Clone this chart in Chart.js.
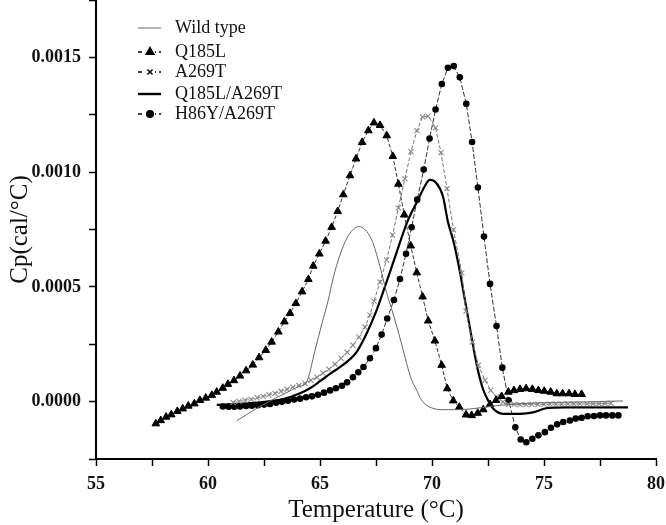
<!DOCTYPE html>
<html>
<head>
<meta charset="utf-8">
<script src="https://cdn.jsdelivr.net/npm/chart.js@4.4.1/dist/chart.umd.min.js"></script>
<style>
  html, body { margin: 0; padding: 0; background: #fff; }
  #wrap { width: 666px; height: 525px; }
</style>
</head>
<body>
<div id="wrap"><canvas id="chart-dsc" width="666" height="525"></canvas></div>
<script>
// values
const wildT = [61.28, 61.96, 62.62, 63.44, 64.11, 64.38, 64.78, 65.09, 65.37, 65.59, 65.89, 66.21, 66.47, 66.75, 67.01, 67.31, 67.68, 67.98, 68.21, 68.42, 68.62, 68.87, 69.06, 69.32, 69.51, 69.76, 70.04, 70.36, 71.10, 71.70, 72.59, 73.48, 74.38, 75.71, 77.05, 78.53];
const wildCp = [-0.000084, -0.000042, -0.000005, 0.000036, 0.000067, 0.00008, 0.000224, 0.000342, 0.000443, 0.000539, 0.000639, 0.000714, 0.000749, 0.000763, 0.000749, 0.000705, 0.000588, 0.000472, 0.0004, 0.00033, 0.00026, 0.000166, 0.000102, 0.000049, 0.00001, -0.000016, -0.000029, -0.000035, -0.000035, -0.000032, -0.000021, -0.000012, -0.000007, -0.000003, -0.000001, 0.000003];

const q185lT = [57.67, 57.89, 58.13, 58.36, 58.63, 58.87, 59.12, 59.39, 59.64, 59.90, 60.17, 60.39, 60.66, 60.89, 61.16, 61.43, 61.70, 62.00, 62.28, 62.58, 62.84, 63.14, 63.41, 63.66, 63.92, 64.20, 64.48, 64.70, 64.97, 65.25, 65.52, 65.79, 66.04, 66.34, 66.61, 66.88, 67.16, 67.41, 67.68, 67.98, 68.25, 68.50, 68.76, 69.05, 69.32, 69.58, 69.83, 70.13, 70.43, 70.68, 70.95, 71.22, 71.52, 71.77, 72.04, 72.29, 72.59, 72.86, 73.11, 73.41, 73.66, 73.93, 74.20, 74.48, 74.75, 75.01, 75.30, 75.57, 75.83, 76.12, 76.38, 76.68];
const q185lCp = [-0.000096, -0.000082, -0.000067, -0.000057, -0.000042, -0.000031, -0.000019, -0.000009, 0.000006, 0.000016, 0.000028, 0.000042, 0.000059, 0.000076, 0.000092, 0.000112, 0.000135, 0.00016, 0.000192, 0.000224, 0.00026, 0.000304, 0.000348, 0.000385, 0.000428, 0.000479, 0.000533, 0.000591, 0.000644, 0.0007, 0.00076, 0.000829, 0.000902, 0.000985, 0.001058, 0.00113, 0.001181, 0.001215, 0.001204, 0.001159, 0.001069, 0.000948, 0.000814, 0.000679, 0.000562, 0.000457, 0.000352, 0.000265, 0.000159, 0.000057, 0.000004, -0.000024, -0.000057, -0.00006, -0.00005, -0.000035, -0.000012, 0.000006, 0.000023, 0.000042, 0.000049, 0.000054, 0.000057, 0.000054, 0.000049, 0.000046, 0.000042, 0.000035, 0.000035, 0.000035, 0.000032, 0.000032];

const a269tT = [61.12, 61.38, 61.65, 61.92, 62.19, 62.46, 62.72, 62.99, 63.26, 63.53, 63.79, 64.06, 64.33, 64.60, 64.87, 65.13, 65.40, 65.67, 65.94, 66.21, 66.47, 66.74, 67.01, 67.23, 67.41, 67.68, 67.97, 68.24, 68.50, 68.79, 69.06, 69.33, 69.58, 69.82, 70.16, 70.40, 70.67, 70.96, 71.33, 71.52, 71.80, 72.07, 72.37, 72.62, 72.89, 73.17, 73.41, 73.67, 73.93, 74.20, 74.46, 74.73, 75.00, 75.27, 75.54, 75.80, 76.07, 76.34, 76.61, 76.92, 77.19, 77.46, 77.72, 77.99];
const a269tCp = [-0.000003, 0.000001, 0.000006, 0.00001, 0.000017, 0.000023, 0.00003, 0.000036, 0.000045, 0.000054, 0.000063, 0.000071, 0.00008, 0.000093, 0.000106, 0.000124, 0.000141, 0.000163, 0.000189, 0.000215, 0.000246, 0.000281, 0.000325, 0.000377, 0.000438, 0.000521, 0.000617, 0.000726, 0.000844, 0.000971, 0.001089, 0.001181, 0.001241, 0.001244, 0.001193, 0.001085, 0.000928, 0.000749, 0.000561, 0.000395, 0.00026, 0.000159, 0.000093, 0.000049, 0.00002, -0.000001, -0.000012, -0.000012, -0.000013, -0.000013, -0.000012, -0.000012, -0.000012, -0.000011, -0.000011, -0.000011, -0.00001, -0.00001, -0.00001, -0.00001, -0.000009, -0.000009, -0.000008, -0.000007];

const dblT = [60.39, 61.43, 62.32, 63.36, 64.11, 64.55, 65.00, 65.49, 65.89, 66.34, 66.64, 67.08, 67.53, 67.90, 68.41, 68.88, 69.38, 69.64, 69.90, 70.18, 70.49, 70.71, 70.94, 71.16, 71.47, 71.83, 72.05, 72.28, 72.50, 72.72, 73.17, 73.93, 74.51, 75.09, 75.98, 78.75];
const dblCp = [-0.000014, -0.00001, -0.000003, 0.000011, 0.000036, 0.000058, 0.000089, 0.000124, 0.00015, 0.000185, 0.000217, 0.000297, 0.000399, 0.000501, 0.000647, 0.000779, 0.00088, 0.000932, 0.000966, 0.000954, 0.000894, 0.000784, 0.000705, 0.000609, 0.000443, 0.000246, 0.000137, 0.000054, 0.000006, -0.000029, -0.000053, -0.000053, -0.000047, -0.000029, -0.000025, -0.000025];

const h86yT = [60.66, 60.92, 61.17, 61.43, 61.70, 61.96, 62.23, 62.50, 62.77, 63.04, 63.30, 63.57, 63.84, 64.11, 64.38, 64.64, 64.91, 65.18, 65.45, 65.71, 65.98, 66.21, 66.47, 66.71, 66.94, 67.23, 67.50, 67.75, 68.00, 68.30, 68.57, 68.84, 69.09, 69.34, 69.63, 69.89, 70.16, 70.44, 70.71, 70.97, 71.24, 71.53, 71.79, 72.05, 72.32, 72.59, 72.88, 73.14, 73.42, 73.72, 73.96, 74.21, 74.48, 74.75, 75.04, 75.31, 75.59, 75.86, 76.16, 76.42, 76.68, 76.95, 77.23, 77.50, 77.77, 78.05, 78.32];
const h86yCp = [-0.000021, -0.000022, -0.000022, -0.000021, -0.000019, -0.000018, -0.000016, -0.000013, -0.00001, -0.000005, -0.000001, 0.000004, 0.000009, 0.000013, 0.000019, 0.000023, 0.00003, 0.000039, 0.000049, 0.000058, 0.000069, 0.000084, 0.000106, 0.000128, 0.000151, 0.000189, 0.000233, 0.000292, 0.000362, 0.000443, 0.000534, 0.000644, 0.00076, 0.00088, 0.001011, 0.001146, 0.001273, 0.001384, 0.001455, 0.001462, 0.001413, 0.001298, 0.001131, 0.000933, 0.000719, 0.000513, 0.000329, 0.000148, 0.000006, -0.000112, -0.000165, -0.000177, -0.000162, -0.000147, -0.000133, -0.000114, -0.000099, -0.000089, -0.000082, -0.000074, -0.00007, -0.000064, -0.000063, -0.00006, -0.00006, -0.00006, -0.00006];

const seriesNames = ["Wild type", "Q185L", "A269T", "Q185L/A269T", "H86Y/A269T"];
const xTitle = "Temperature (°C)";
const yTitle = "Cp(cal/°C)";

const FONT = "'Liberation Serif', 'Times New Roman', serif";

function points(xs, ys) {
  return xs.map((x, i) => ({ x, y: ys[i] }));
}

const datasets = [
  {
    label: seriesNames[0], data: points(wildT, wildCp),
    borderColor: "#666", borderWidth: 1, pointRadius: 0, cubicInterpolationMode: "monotone",
    legendSample: { dash: [] }
  },
  {
    label: seriesNames[1], data: points(q185lT, q185lCp),
    borderColor: "#333", borderWidth: 1, borderDash: [4, 2],
    pointStyle: "triangle", pointRadius: 4.4, pointBackgroundColor: "#000", pointBorderColor: "#000", pointBorderWidth: 1,
    legendSample: { dash: [4, 3] }
  },
  {
    label: seriesNames[2], data: points(a269tT, a269tCp),
    borderColor: "#777", borderWidth: 1, borderDash: [4, 2],
    pointStyle: "crossRot", pointRadius: 3.6, pointBorderColor: "#888", pointBorderWidth: 1.1,
    legendSample: { dash: [4, 3] }
  },
  {
    label: seriesNames[3], data: points(dblT, dblCp),
    borderColor: "#000", borderWidth: 2.2, pointRadius: 0, cubicInterpolationMode: "monotone",
    legendSample: { dash: [] }
  },
  {
    label: seriesNames[4], data: points(h86yT, h86yCp),
    borderColor: "#333", borderWidth: 1, borderDash: [5, 2],
    pointStyle: "circle", pointRadius: 3.3, pointBackgroundColor: "#000", pointBorderColor: "#000", pointBorderWidth: 0,
    legendSample: { dash: [4, 3] }
  }
];

// legend drawn inside the plot like the original figure
const insideLegend = {
  id: "insideLegend",
  afterDraw(chart) {
    const ctx = chart.ctx;
    const x0 = 138, x1 = 161, xm = 150, xt = 175;
    const rows = [28, 52, 72, 94, 114];
    ctx.save();
    chart.data.datasets.forEach((ds, i) => {
      const y = rows[i];
      ctx.beginPath();
      ctx.setLineDash(ds.legendSample.dash);
      ctx.strokeStyle = i === 0 ? "#666" : "#000";
      ctx.lineWidth = i === 3 ? 2.4 : (i === 0 ? 1 : 1.5);
      ctx.moveTo(x0, y);
      ctx.lineTo(x1, y);
      ctx.stroke();
      ctx.setLineDash([]);
      if (ds.pointStyle && ds.pointRadius > 0) {
        ctx.fillStyle = "#fff";
        ctx.fillRect(xm - 5, y - 5, 10, 10);
        ctx.fillStyle = "#000";
        ctx.strokeStyle = "#000";
        ctx.lineWidth = 1.5;
        Chart.helpers.drawPoint(ctx, { pointStyle: ds.pointStyle, radius: ds.pointRadius, borderWidth: 1.5, rotation: 0 }, xm, y);
      }
      ctx.fillStyle = "#111";
      ctx.font = "18px " + FONT;
      ctx.textBaseline = "middle";
      ctx.textAlign = "left";
      ctx.fillText(ds.label, xt, y);
    });
    ctx.restore();
  }
};

function isMultiple(v, step) {
  const r = v / step;
  return Math.abs(r - Math.round(r)) < 1e-6;
}

new Chart(document.getElementById("chart-dsc").getContext("2d"), {
  type: "line",
  data: { datasets },
  options: {
    responsive: false,
    animation: false,
    layout: { autoPadding: false, padding: { top: 0, right: 10, left: 0, bottom: 0 } },
    plugins: { legend: { display: false }, tooltip: { enabled: false } },
    scales: {
      x: {
        type: "linear", min: 55, max: 80,
        border: { color: "#000", width: 2 },
        grid: { drawOnChartArea: false, drawTicks: true, tickLength: 7, tickColor: "#000", tickWidth: 1.5 },
        ticks: {
          stepSize: 2.5, autoSkip: false, maxRotation: 0, padding: 8, color: "#111",
          font: { family: FONT, size: 18, weight: "bold" },
          callback: v => (isMultiple(v, 5) ? String(Math.round(v)) : "")
        },
        title: { display: true, text: xTitle, color: "#111", font: { family: FONT, size: 25 }, padding: { top: 2, bottom: 0 } },
        afterFit: scale => {
          scale.height = 66;
          scale.paddingLeft = 0;
          scale.paddingRight = 0;
        }
      },
      y: {
        type: "linear", min: -0.00025, max: 0.00175,
        border: { color: "#000", width: 2 },
        grid: { drawOnChartArea: false, drawTicks: true, tickLength: 7, tickColor: "#000", tickWidth: 1.5 },
        ticks: {
          stepSize: 0.00025, autoSkip: false, padding: 8, color: "#111",
          font: { family: FONT, size: 18, weight: "bold" },
          callback: v => (isMultiple(v, 0.0005) ? (Math.abs(v) < 1e-9 ? 0 : v).toFixed(4) : "")
        },
        title: { display: true, text: yTitle, color: "#111", font: { family: FONT, size: 25 }, padding: { top: 5, bottom: 0 } },
        afterFit: scale => {
          scale.width = 96;
          scale.paddingTop = 0;
          scale.paddingBottom = 0;
        }
      }
    }
  },
  plugins: [insideLegend]
});
</script>
</body>
</html>
